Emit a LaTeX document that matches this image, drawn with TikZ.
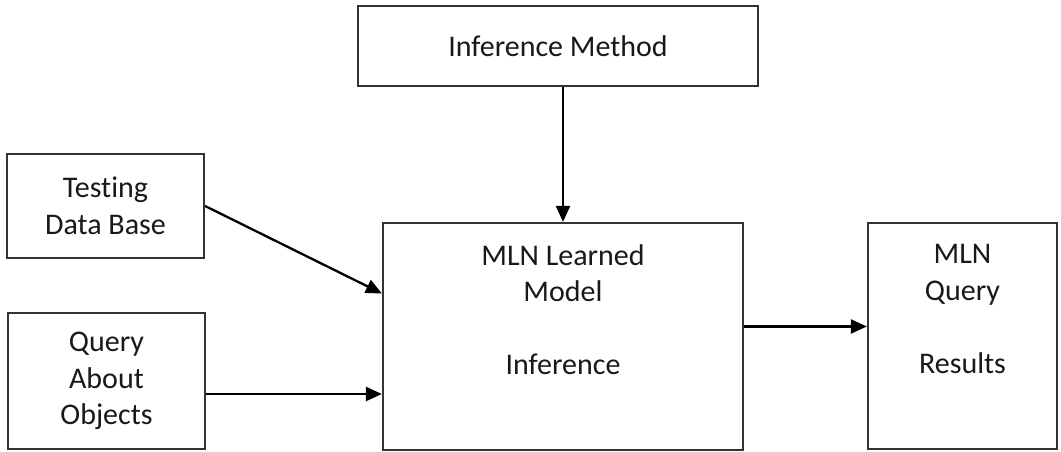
\documentclass[tikz,border=0pt]{standalone}
\usepackage{fontspec}
\setmainfont{Carlito}[Ligatures=NoCommon]
\usetikzlibrary{positioning,arrows.meta}

\tikzset{
    box/.style={draw=black!80, line width=2.2pt, rectangle, inner sep=0pt},
    txt/.style={align=center, text=black!90, font=\fontsize{30}{36.5}\selectfont},
    arrow/.style={line width=2.3pt, -{Triangle[length=16pt,width=14pt]}}
}

\begin{document}
\begin{tikzpicture}[x=1pt,y=1pt]
    \useasboundingbox (0,0) rectangle (1061,452);
    % Boxes
    \node[box, txt, minimum width=400pt, minimum height=80pt] (method) at (558,406) {Inference Method};
    \node[box, txt, minimum width=197pt, minimum height=104pt] (testing) at (105.5,246) {Testing\\Data Base};
    \node[box, txt, minimum width=197pt, minimum height=136pt] (query) at (106.5,71) {Query\\About\\Objects};
    \node[box, minimum width=360pt, minimum height=227pt] (mln) at (563,115.5) {};
    \node[box, minimum width=189pt, minimum height=226pt] (results) at (962.5,116) {};
    % Texts inside the tall boxes
    \node[txt] (mlntext) at ([yshift=27pt]mln.center) {MLN Learned\\Model\\[36.5pt]Inference};
    \node[txt] (restext) at ([yshift=27pt]results.center) {MLN\\Query\\[36.5pt]Results};
    % Connection points
    \coordinate (tin) at ([yshift=43pt]mln.west);
    \coordinate (qout) at ([yshift=-13pt]query.east);
    \coordinate (mout) at ([yshift=10pt]mln.east);
    % Arrows
    \draw[arrow] (method.south -| mln.north) -- (mln.north);
    \draw[arrow] (testing.east) -- (tin);
    \draw[arrow] (qout) -- (qout -| mln.west);
    \draw[arrow] (mout) -- (mout -| results.west);
\end{tikzpicture}
\end{document}
